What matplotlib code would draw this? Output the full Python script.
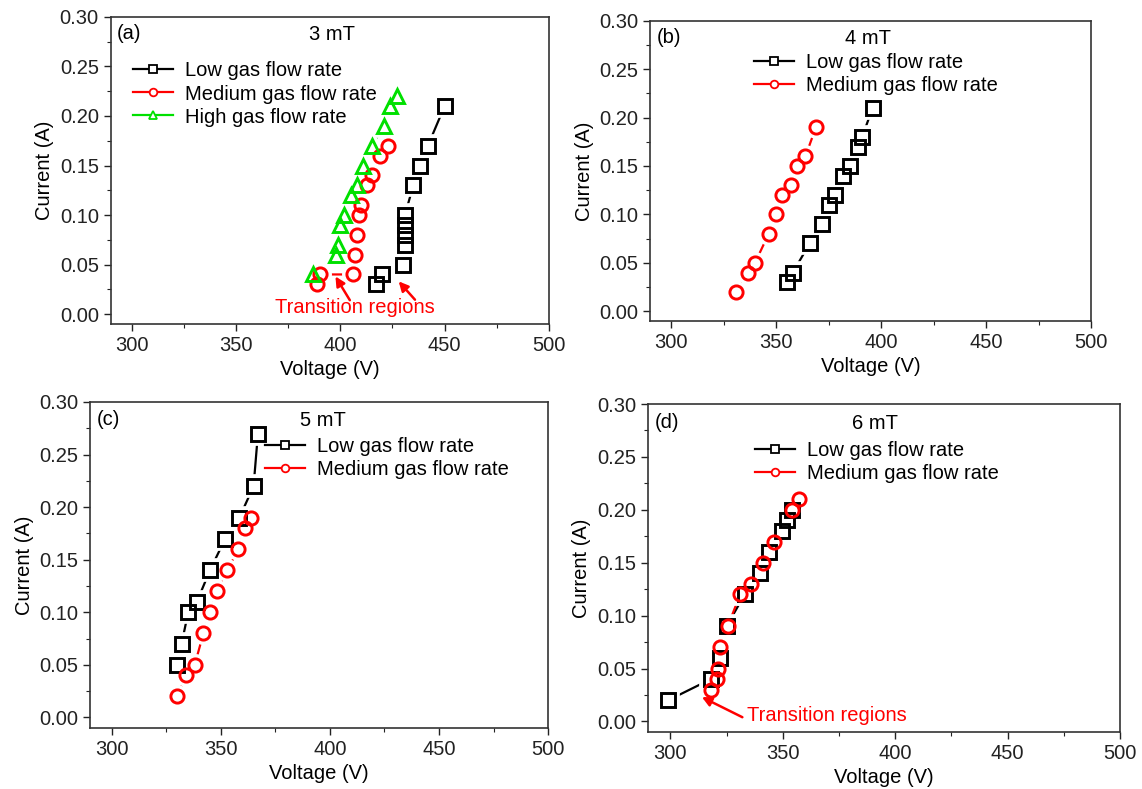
import matplotlib
matplotlib.use('Agg')
import matplotlib.pyplot as plt
from matplotlib.lines import Line2D
from matplotlib.ticker import MultipleLocator, FormatStrFormatter

plt.rcParams['font.family'] = ['Liberation Sans', 'DejaVu Sans']

# --- Data (voltage in V, current in A) ---
# (a) 3 mT
v3_low = [417, 420, 430, 431, 431, 431, 431, 435, 438, 442, 450]
i3_low = [0.03, 0.04, 0.05, 0.07, 0.08, 0.09, 0.10, 0.13, 0.15, 0.17, 0.21]
v3_med = [389, 390.5, 406, 407, 408, 409, 410, 413, 415, 419, 423]
i3_med = [0.03, 0.04, 0.04, 0.06, 0.08, 0.10, 0.11, 0.13, 0.14, 0.16, 0.17]
v3_high = [387, 398, 399, 400, 402, 405, 408, 411, 415, 421, 424, 427]
i3_high = [0.04, 0.06, 0.07, 0.09, 0.10, 0.12, 0.13, 0.15, 0.17, 0.19, 0.21, 0.22]

# (b) 4 mT
v4_low = [355, 358, 366, 372, 375, 378, 382, 385, 389, 391, 396]
i4_low = [0.03, 0.04, 0.07, 0.09, 0.11, 0.12, 0.14, 0.15, 0.17, 0.18, 0.21]
v4_med = [331, 336.5, 340, 346.5, 350, 353, 357, 360, 364, 369]
i4_med = [0.02, 0.04, 0.05, 0.08, 0.10, 0.12, 0.13, 0.15, 0.16, 0.19]

# (c) 5 mT
v5_low = [330, 332, 335, 339, 345, 352, 358.5, 365, 367]
i5_low = [0.05, 0.07, 0.10, 0.11, 0.14, 0.17, 0.19, 0.22, 0.27]
v5_med = [330, 334, 338, 342, 345, 348, 353, 358, 361, 364]
i5_med = [0.02, 0.04, 0.05, 0.08, 0.10, 0.12, 0.14, 0.16, 0.18, 0.19]

# (d) 6 mT
v6_low = [299, 318, 322, 325, 333, 340, 344, 349.5, 352, 354]
i6_low = [0.02, 0.04, 0.06, 0.09, 0.12, 0.14, 0.16, 0.18, 0.19, 0.20]
v6_med = [318, 320.5, 321, 322, 325.5, 331, 336, 341, 346, 354, 357]
i6_med = [0.03, 0.04, 0.05, 0.07, 0.09, 0.12, 0.13, 0.15, 0.17, 0.20, 0.21]

LABELS = ['Low gas flow rate', 'Medium gas flow rate', 'High gas flow rate']
COLORS = ['black', '#ff0000', '#00e000']
MARKERS = ['s', 'o', '^']
MSIZES = [9.5, 9.5, 10.5]
FS = 14.5

fig = plt.figure(figsize=(11.42, 7.89), dpi=100)


def draw_panel(rect, series, tag, field, field_x, leg_pos):
    ax = fig.add_axes(rect)
    # lines first, then white "gap" markers, then the open markers on top
    for k, (v, i) in enumerate(series):
        ax.plot(v, i, color=COLORS[k], lw=1.6, zorder=2)
    for k, (v, i) in enumerate(series):
        ax.plot(v, i, ls='none', marker=MARKERS[k], ms=MSIZES[k], mfc='white',
                mec='white', mew=7, zorder=3)
    for k, (v, i) in enumerate(series):
        ax.plot(v, i, ls='none', marker=MARKERS[k], ms=MSIZES[k], mfc='none',
                mec=COLORS[k], mew=2.1, zorder=4)

    handles = [Line2D([], [], color=COLORS[k], lw=1.6, marker=MARKERS[k], ms=5.5,
                      mfc='white', mec=COLORS[k], mew=1.3)
               for k in range(len(series))]
    ax.legend(handles, LABELS[:len(series)], loc='upper left', bbox_to_anchor=leg_pos,
              frameon=False, fontsize=FS, handlelength=2.0, handletextpad=0.6,
              labelspacing=0.2, borderpad=0, borderaxespad=0)

    ax.set_xlim(290, 500)
    ax.set_ylim(-0.01, 0.30)
    ax.xaxis.set_major_locator(MultipleLocator(50))
    ax.xaxis.set_minor_locator(MultipleLocator(25))
    ax.yaxis.set_major_locator(MultipleLocator(0.05))
    ax.yaxis.set_minor_locator(MultipleLocator(0.025))
    ax.yaxis.set_major_formatter(FormatStrFormatter('%.2f'))
    ax.tick_params(which='both', direction='out', top=False, right=False,
                   labelsize=FS, colors='#222222')
    ax.tick_params(which='major', length=5, width=1)
    ax.tick_params(which='minor', length=3, width=0.8)
    for sp in ax.spines.values():
        sp.set_linewidth(1.2)
        sp.set_color('#333333')
    ax.set_xlabel('Voltage (V)', fontsize=FS)
    ax.set_ylabel('Current (A)', fontsize=FS)

    ax.text(0.015, 0.945, tag, transform=ax.transAxes, fontsize=FS, va='center')
    ax.text(field_x, 0.282, field, fontsize=FS, ha='center', va='center')
    return ax


# --- (a) 3 mT ---
ax_a = draw_panel([0.0969, 0.5894, 0.3838, 0.3891],
                  [(v3_low, i3_low), (v3_med, i3_med), (v3_high, i3_high)],
                  '(a)', '3 mT', 396, (0.05, 0.855))
ax_a.text(407, 0.0067, 'Transition regions', color='red', fontsize=FS,
          ha='center', va='center')
arrow = dict(arrowstyle='-|>', color='red', lw=1.8, mutation_scale=14,
             shrinkA=0, shrinkB=0)
ax_a.annotate('', xy=(397.7, 0.038), xytext=(404.6, 0.014), arrowprops=arrow)
ax_a.annotate('', xy=(428, 0.033), xytext=(435.8, 0.0145), arrowprops=arrow)

# --- (b) 4 mT ---
draw_panel([0.5692, 0.5932, 0.3862, 0.3806],
           [(v4_low, i4_low), (v4_med, i4_med)],
           '(b)', '4 mT', 394, (0.235, 0.893))

# --- (c) 5 mT ---
draw_panel([0.0788, 0.0773, 0.4011, 0.4132],
           [(v5_low, i5_low), (v5_med, i5_med)],
           '(c)', '5 mT', 397, (0.381, 0.893))

# --- (d) 6 mT ---
ax_d = draw_panel([0.5674, 0.0722, 0.4133, 0.4157],
                  [(v6_low, i6_low), (v6_med, i6_med)],
                  '(d)', '6 mT', 391, (0.226, 0.888))
ax_d.text(334, 0.006, 'Transition regions', color='red', fontsize=FS,
          ha='left', va='center')
ax_d.annotate('', xy=(314, 0.023), xytext=(332, 0.004), arrowprops=arrow)

plt.savefig('out.png', dpi=100)
